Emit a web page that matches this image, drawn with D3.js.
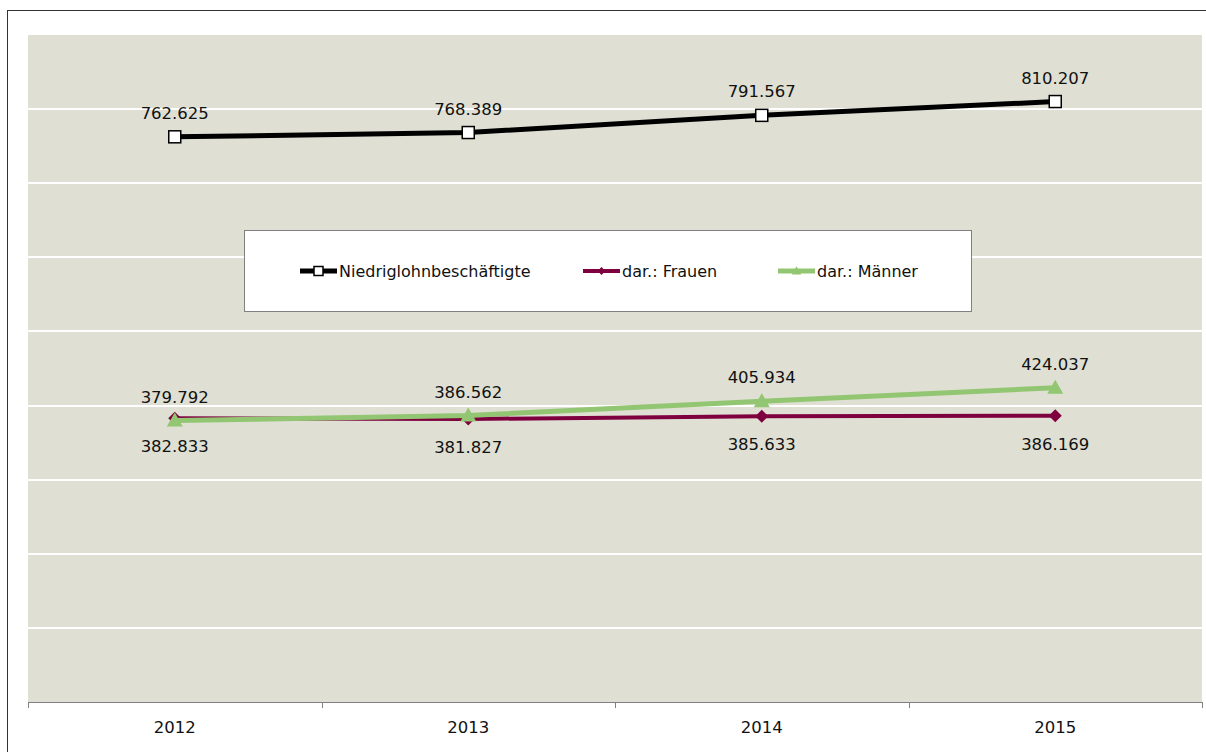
<!DOCTYPE html>
<html><head><meta charset="utf-8">
<script src="https://d3js.org/d3.v7.min.js"></script>
<style>body{margin:0;background:#fff;}svg{display:block;font-family:"DejaVu Sans",Verdana,sans-serif;}</style>
</head><body>
<svg id="c" width="1206" height="752"></svg>
<script>
const years = ["2012","2013","2014","2015"];
const gesamt = [762.625, 768.389, 791.567, 810.207];
const frauen = [382.833, 381.827, 385.633, 386.169];
const maenner = [379.792, 386.562, 405.934, 424.037];
const seriesNames = ["Niedriglohnbeschäftigte","dar.: Frauen","dar.: Männer"];
const yTicks = [0,100,200,300,400,500,600,700,800,900];

const svg = d3.select("#c");
const fmt = v => v.toFixed(3);
const L=28, R=1202, T=35, B=702;
svg.append("rect").attr("x",7.5).attr("y",10.5).attr("width",1220).attr("height",760)
  .attr("fill","#fff").attr("stroke","#333").attr("stroke-width",1);
svg.append("rect").attr("x",L).attr("y",T).attr("width",R-L).attr("height",B-T).attr("fill","#dfe0d3");

const x = d3.scaleBand().domain(years).range([L,R]);
const y = d3.scaleLinear().domain([0,900]).range([B,T]);
const cx = d => x(d)+x.bandwidth()/2;

svg.append("g").selectAll("line").data(yTicks.filter(t=>t>0 && t<900)).join("line")
  .attr("x1",L).attr("x2",R).attr("y1",d=>Math.round(y(d))).attr("y2",d=>Math.round(y(d)))
  .attr("stroke","#fff").attr("stroke-width",2);

// x axis
const ax = svg.append("g");
ax.append("line").attr("x1",L).attr("x2",R).attr("y1",B+0.5).attr("y2",B+0.5).attr("stroke","#808080");
const bounds = years.map(d=>x(d)).concat([R]);
ax.selectAll("line.t").data(bounds).join("line").attr("class","t")
  .attr("x1",d=>Math.round(d)+0.5).attr("x2",d=>Math.round(d)+0.5).attr("y1",B).attr("y2",B+6).attr("stroke","#808080");
ax.selectAll("text").data(years).join("text").attr("x",cx).attr("y",733)
  .attr("text-anchor","middle").attr("font-size",16.5).attr("fill","#111").text(d=>d);

const line = d3.line().x((d,i)=>cx(years[i])).y(d=>y(d));
const cfg = [
  {data:gesamt, color:"#000", w:5, marker:"square", labelDy:-18},
  {data:frauen, color:"#7f003f", w:4, marker:"diamond", labelDy:34},
  {data:maenner, color:"#93c672", w:5, marker:"triangle", labelDy:-18}
];
function drawMarker(g, type, px, py, color, scale){
  const s = scale||1;
  if(type==="square"){
    g.append("rect").attr("x",px-6*s).attr("y",py-6*s).attr("width",12*s).attr("height",12*s)
      .attr("fill","#fff").attr("stroke","#000").attr("stroke-width",1.5);
  } else if(type==="diamond"){
    g.append("path").attr("d",`M${px},${py-6.5*s}L${px+6.5*s},${py}L${px},${py+6.5*s}L${px-6.5*s},${py}Z`).attr("fill",color);
  } else {
    g.append("path").attr("d",`M${px},${py-8*s}L${px+8*s},${py+6*s}L${px-8*s},${py+6*s}Z`).attr("fill",color);
  }
}
cfg.forEach(c=>{
  const g = svg.append("g");
  g.append("path").datum(c.data).attr("d",line).attr("fill","none").attr("stroke",c.color)
    .attr("stroke-width",c.w).attr("stroke-linejoin","round");
  c.data.forEach((v,i)=>drawMarker(g,c.marker,cx(years[i]),y(v),c.color,1));
});
cfg.forEach(c=>{
  svg.append("g").selectAll("text").data(c.data).join("text")
    .attr("x",(d,i)=>cx(years[i])).attr("y",d=>y(d)+c.labelDy)
    .attr("text-anchor","middle").attr("font-size",16.5).attr("fill","#111").text(fmt);
});

// legend
const lg = svg.append("g");
lg.append("rect").attr("x",244.5).attr("y",230.5).attr("width",727).attr("height",81)
  .attr("fill","#fff").attr("stroke","#808080");
const legX = [300, 583, 778];
cfg.forEach((c,i)=>{
  const g = lg.append("g");
  const ly = 271;
  g.append("line").attr("x1",legX[i]).attr("x2",legX[i]+37).attr("y1",ly).attr("y2",ly)
    .attr("stroke",c.color).attr("stroke-width",c.w);
  drawMarker(g,c.marker,legX[i]+18.5,ly,c.color,c.marker==="square"?0.75:0.6);
  g.append("text").attr("x",legX[i]+39).attr("y",ly+6).attr("font-size",16).attr("fill","#111").text(seriesNames[i]);
});
</script>
</body></html>
